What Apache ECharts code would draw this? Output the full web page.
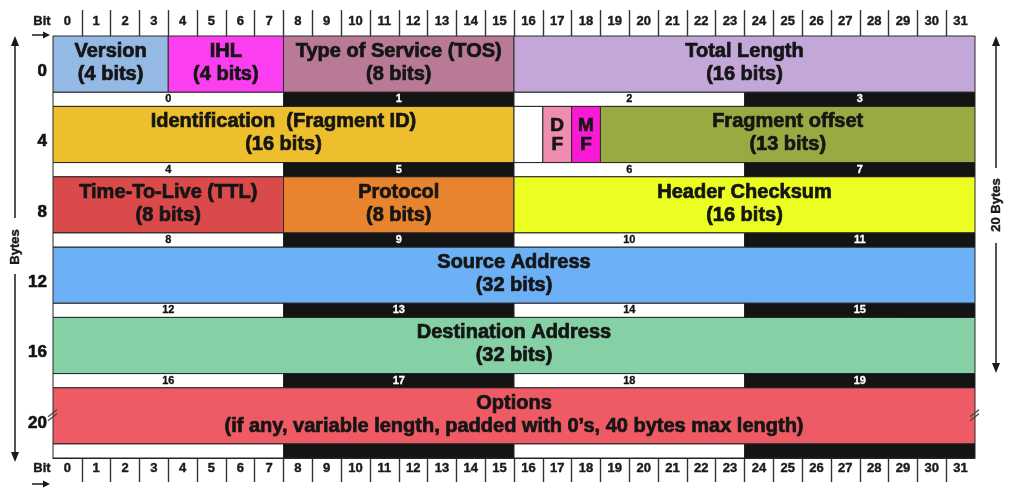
<!DOCTYPE html>
<html><head><meta charset="utf-8">
<script src="https://cdn.jsdelivr.net/npm/echarts@6/dist/echarts.min.js"></script>
<style>html,body{margin:0;padding:0;background:#fff}#c{width:1018px;height:500px}</style>
</head><body><div id="c"></div>
<script>
// ---- data ----
const bitLabels = ['0','1','2','3','4','5','6','7','8','9','10','11','12','13','14','15','16','17','18','19','20','21','22','23','24','25','26','27','28','29','30','31'];
const rowLabels = ['0','4','8','12','16','20'];
const fieldNames = [
  'Version\n(4 bits)', 'IHL\n(4 bits)', 'Type of Service (TOS)\n(8 bits)', 'Total Length\n(16 bits)',
  'Identification  (Fragment ID)\n(16 bits)', '', 'D\nF', 'M\nF', 'Fragment offset\n(13 bits)',
  'Time-To-Live (TTL)\n(8 bits)', 'Protocol\n(8 bits)', 'Header Checksum\n(16 bits)',
  'Source Address\n(32 bits)', 'Destination Address\n(32 bits)',
  'Options\n(if any, variable length, padded with 0\u2019s, 40 bytes max length)'
];
const fieldRows  = [0,0,0,0, 1,1,1,1,1, 2,2,2, 3, 4, 5];
const fieldStarts= [0,4,8,16, 0,16,17,18,19, 0,8,16, 0, 0, 0];
const fieldBits  = [4,4,8,16, 16,1,1,1,13, 8,8,16, 32, 32, 32];
const fieldColors= ['#93b9e4','#fb3ff0','#b97a97','#c3a7d9',
                    '#eebf2d','#ffffff','#ee8db0','#f81bd3','#97ab42',
                    '#da4a4a','#e8842e','#ecfd22',
                    '#6cb1f5','#85d0a5','#ef5b65'];
const byteLabels = ['0','1','2','3','4','5','6','7','8','9','10','11','12','13','14','15','16','17','18','19','','','',''];
const BITS_PER_BYTE = 8, BYTES_PER_ROW = 4;
const FIELD_H = 0.8;
const FONT = '"Liberation Sans", Arial, sans-serif';
const TXT = '#151515';

const fieldData = fieldNames.map((n,i)=>[fieldStarts[i], fieldStarts[i]+fieldBits[i], fieldRows[i]]);
const byteData = byteLabels.map((l,i)=>{
  const c = i % BYTES_PER_ROW;
  return [c*BITS_PER_BYTE, (c+1)*BITS_PER_BYTE, Math.floor(i/BYTES_PER_ROW), c];
});
const bitBoundaries = bitLabels.slice(1).map(Number);
const lastRow = rowLabels.length - 1;

function renderField(params, api){
  const i = params.dataIndex;
  const s = api.value(0), e = api.value(1), r = api.value(2);
  const p1 = api.coord([s, r]), p2 = api.coord([e, r + FIELD_H]);
  const small = fieldBits[i] === 1;
  const rect = {
    type:'rect',
    shape:{x:p1[0], y:p1[1], width:p2[0]-p1[0], height:p2[1]-p1[1]},
    style:{fill:fieldColors[i], stroke:'#2b2b2b', lineWidth:1},
    textContent:{style:{text:fieldNames[i], font:'bold ' + (small?19:20) + 'px ' + FONT,
      fill:TXT, stroke:TXT, lineWidth:0.7, align:'center', verticalAlign:'middle', lineHeight: small?19:23}},
    textConfig:{position:'inside', offset:[0, small?1:-1]}
  };
  if (r !== lastRow) return rect;
  const yc = (p1[1]+p2[1])/2;
  const mk = (x)=>[
    {type:'line', shape:{x1:x-5,y1:yc+1,x2:x+4,y2:yc-6}, style:{stroke:'#444', lineWidth:1.2}},
    {type:'line', shape:{x1:x-5,y1:yc+5,x2:x+4,y2:yc-2}, style:{stroke:'#444', lineWidth:1.2}}
  ];
  return {type:'group', children:[rect].concat(mk(p1[0]), mk(p2[0]))};
}
function renderByte(params, api){
  const i = params.dataIndex;
  const s = api.value(0), e = api.value(1), r = api.value(2), c = api.value(3);
  const p1 = api.coord([s, r + FIELD_H]), p2 = api.coord([e, r + 1]);
  const dark = c % 2 === 1;
  const tc = dark ? '#fff' : '#111';
  return {
    type:'rect',
    shape:{x:p1[0], y:p1[1], width:p2[0]-p1[0], height:p2[1]-p1[1]},
    style:{fill: dark ? '#141414' : '#ffffff', stroke:'#222', lineWidth:1},
    textContent:{style:{text:byteLabels[i], font:'bold 11px ' + FONT, fill:tc, stroke:tc, lineWidth:0.3, align:'center', verticalAlign:'middle'}},
    textConfig:{position:'inside'}
  };
}

const tickAxis = (pos, len)=>({type:'value', min:0, max:32, interval:1, position:pos, gridIndex:0,
  axisLine:{show:true, lineStyle:{color:'#222', width:1}},
  axisTick:{show:true, length:len, customValues:bitBoundaries, lineStyle:{color:'#333', width:1.4}},
  axisLabel:{show:false}, splitLine:{show:false}});
const labelAxis = (pos, margin)=>({type:'category', data:bitLabels, position:pos, boundaryGap:true, gridIndex:0,
  axisLine:{show:false}, axisTick:{show:false},
  axisLabel:{interval:0, margin:margin, fontFamily:FONT, fontWeight:'bold', fontSize:13, color:'#1a1a1a',
    textBorderColor:'#1a1a1a', textBorderWidth:0.4}});

const chart = echarts.init(document.getElementById('c'), null, {renderer:'canvas'});
const ink = '#1a1a1a';
const bold = (sz)=>({font:'bold '+sz+'px '+FONT, fill:ink, stroke:ink, lineWidth:0.4, align:'center', verticalAlign:'middle'});
chart.setOption({
  animation:false,
  backgroundColor:'#fff',
  grid:{left:53, right:43, top:36, bottom:42},
  xAxis:[tickAxis('top',26), labelAxis('top',8), tickAxis('bottom',24), labelAxis('bottom',4)],
  yAxis:[
    {type:'value', min:0, max:6, inverse:true, show:false},
    {type:'category', data:rowLabels, inverse:true, position:'left', boundaryGap:true,
     axisLine:{show:false}, axisTick:{show:false},
     axisLabel:{margin:6, fontFamily:FONT, fontWeight:'bold', fontSize:17, color:'#111',
       textBorderColor:'#111', textBorderWidth:0.6}}
  ],
  series:[
    {type:'custom', name:'fields', xAxisIndex:0, yAxisIndex:0, data:fieldData, renderItem:renderField},
    {type:'custom', name:'bytes', xAxisIndex:0, yAxisIndex:0, data:byteData, renderItem:renderByte}
  ],
  graphic:[
    {type:'text', x:42, y:21, style:Object.assign({text:'Bit'}, bold(13))},
    {type:'line', shape:{x1:32,y1:35,x2:45,y2:35}, style:{stroke:ink, lineWidth:1.5}},
    {type:'polygon', shape:{points:[[50,35],[43,31.5],[43,38.5]]}, style:{fill:ink}},
    {type:'text', x:42, y:468, style:Object.assign({text:'Bit'}, bold(13))},
    {type:'line', shape:{x1:32,y1:484,x2:45,y2:484}, style:{stroke:ink, lineWidth:1.5}},
    {type:'polygon', shape:{points:[[50,484],[43,480.5],[43,487.5]]}, style:{fill:ink}},
    {type:'line', shape:{x1:15,y1:44,x2:15,y2:218}, style:{stroke:ink, lineWidth:1.5}},
    {type:'line', shape:{x1:15,y1:274,x2:15,y2:454}, style:{stroke:ink, lineWidth:1.5}},
    {type:'polygon', shape:{points:[[15,36],[11,46],[19,46]]}, style:{fill:ink}},
    {type:'polygon', shape:{points:[[15,462],[11,452],[19,452]]}, style:{fill:ink}},
    {type:'text', x:15, y:247, rotation:Math.PI/2, style:Object.assign({text:'Bytes'}, bold(13))},
    {type:'line', shape:{x1:996,y1:44,x2:996,y2:168}, style:{stroke:ink, lineWidth:1.5}},
    {type:'line', shape:{x1:996,y1:243,x2:996,y2:365}, style:{stroke:ink, lineWidth:1.5}},
    {type:'polygon', shape:{points:[[996,36],[992,46],[1000,46]]}, style:{fill:ink}},
    {type:'polygon', shape:{points:[[996,373],[992,363],[1000,363]]}, style:{fill:ink}},
    {type:'text', x:996, y:205, rotation:Math.PI/2, style:Object.assign({text:'20 Bytes'}, bold(13))}
  ]
});
</script>
</body></html>
